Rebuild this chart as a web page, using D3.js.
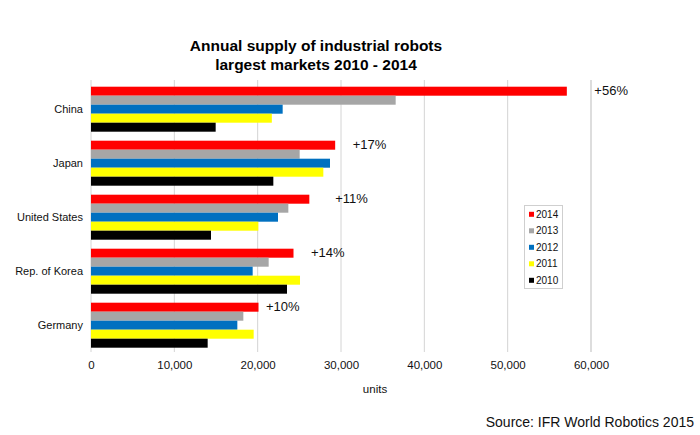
<!DOCTYPE html>
<html>
<head>
<meta charset="utf-8">
<script src="https://cdn.jsdelivr.net/npm/d3@7"></script>
<style>
  body { margin: 0; background: #fff; }
  svg { font-family: "Liberation Sans", Arial, sans-serif; }
</style>
</head>
<body>
<svg width="700" height="435"></svg>
<script>
// values (units)
const categories = ["China", "Japan", "United States", "Rep. of Korea", "Germany"];
const years = ["2014", "2013", "2012", "2011", "2010"];
const v2014 = [57100, 29300, 26200, 24300, 20100];
const v2013 = [36560, 25040, 23680, 21320, 18280];
const v2012 = [23000, 28680, 22440, 19400, 17560];
const v2011 = [21700, 27880, 20080, 25080, 19520];
const v2010 = [14960, 21880, 14400, 23520, 14000];
const growth = ["+56%", "+17%", "+11%", "+14%", "+10%"];
const growthAt = [60400, 31400, 29300, 26400, 21000]; // where the % label starts, in units
const xTicks = [0, 10000, 20000, 30000, 40000, 50000, 60000];

const colors = ["#ff0000", "#a6a6a6", "#0070c0", "#ffff00", "#000000"];
const series = [v2014, v2013, v2012, v2011, v2010];

const svg = d3.select("svg");

const x = d3.scaleLinear().domain([0, 60000]).range([91, 591]);
const y = d3.scaleBand().domain(categories).range([82.2, 352.2])
  .paddingInner(1 / 6).paddingOuter(1 / 12);
const yy = d3.scaleBand().domain(years).range([0, y.bandwidth()]);

// grid
svg.append("g")
  .selectAll("line")
  .data(xTicks)
  .join("line")
    .attr("x1", d => x(d)).attr("x2", d => x(d))
    .attr("y1", 80).attr("y2", 352)
    .attr("stroke", d => d == 60000 ? "#bbb" : "#d4d4d4")
    .attr("stroke-width", 1);

// bars
const groups = svg.append("g")
  .selectAll("g")
  .data(categories)
  .join("g")
    .attr("transform", d => `translate(0,${y(d)})`);

groups.selectAll("rect")
  .data((d, i) => years.map((yr, j) => ({ yr: yr, v: series[j][i], c: colors[j] })))
  .join("rect")
    .attr("x", x(0))
    .attr("y", d => yy(d.yr))
    .attr("width", d => x(d.v) - x(0))
    .attr("height", yy.bandwidth())
    .attr("fill", d => d.c);

// growth labels
svg.append("g")
  .selectAll("text")
  .data(categories)
  .join("text")
    .attr("x", (d, i) => x(growthAt[i]))
    .attr("y", d => y(d) + yy("2014") + yy.bandwidth() / 2)
    .attr("dy", "0.33em")
    .attr("font-size", 13)
    .attr("fill", "#111")
    .text((d, i) => growth[i]);

// category labels
svg.append("g")
  .selectAll("text")
  .data(categories)
  .join("text")
    .attr("x", 83)
    .attr("y", d => y(d) + y.bandwidth() / 2)
    .attr("dy", "0.35em")
    .attr("text-anchor", "end")
    .attr("font-size", 11)
    .attr("fill", "#111")
    .text(d => d);

// x axis
const xAxis = svg.append("g")
  .attr("transform", "translate(0,352)")
  .call(d3.axisBottom(x).tickValues(xTicks).tickSize(0).tickPadding(9)
    .tickFormat(d3.format(",")));
xAxis.select(".domain").remove();
xAxis.selectAll("text")
  .attr("font-family", "Liberation Sans, Arial, sans-serif")
  .attr("font-size", 11.5)
  .attr("fill", "#111");

svg.append("text")
  .attr("x", 375).attr("y", 393)
  .attr("text-anchor", "middle")
  .attr("font-size", 11.5)
  .attr("fill", "#111")
  .text("units");

// title
const title = svg.append("text")
  .attr("x", 316)
  .attr("text-anchor", "middle")
  .attr("font-size", 15.5)
  .attr("font-weight", "bold")
  .attr("fill", "#000");
title.append("tspan").attr("x", 316).attr("y", 51).text("Annual supply of industrial robots");
title.append("tspan").attr("x", 316).attr("y", 70).text("largest markets 2010 - 2014");

// legend
const leg = svg.append("g");
leg.append("rect")
  .attr("x", 524.5).attr("y", 205.5)
  .attr("width", 38).attr("height", 83)
  .attr("fill", "#fff")
  .attr("stroke", "#cfcfcf");
const items = leg.selectAll("g.item")
  .data(years)
  .join("g")
    .attr("class", "item")
    .attr("transform", (d, i) => `translate(529,${214.3 + i * 16.5})`);
items.append("rect")
  .attr("x", 0).attr("y", -2.5)
  .attr("width", 5).attr("height", 5)
  .attr("fill", (d, i) => colors[i]);
items.append("text")
  .attr("x", 7).attr("dy", "0.35em")
  .attr("font-size", 10)
  .attr("fill", "#111")
  .text(d => d);

// source
svg.append("text")
  .attr("x", 694).attr("y", 427)
  .attr("text-anchor", "end")
  .attr("font-size", 14)
  .attr("fill", "#111")
  .text("Source: IFR World Robotics 2015");
</script>
</body>
</html>
